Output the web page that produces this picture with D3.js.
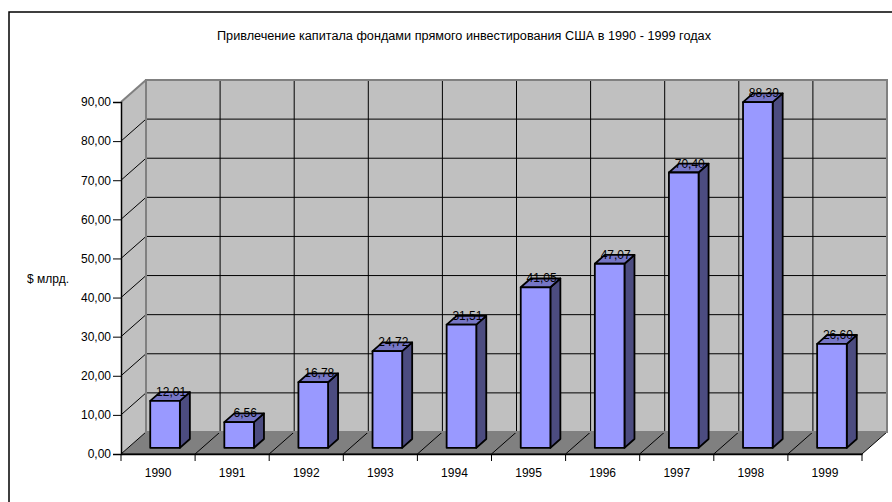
<!DOCTYPE html>
<html>
<head>
<meta charset="utf-8">
<script src="https://cdn.jsdelivr.net/npm/d3@7"></script>
<style>
  body { margin: 0; background: #fff; }
  svg { display: block; font-family: "Liberation Sans", Arial, sans-serif; }
</style>
</head>
<body>
<svg id="chart" width="892" height="502"></svg>
<script>
const years = ["1990", "1991", "1992", "1993", "1994", "1995", "1996", "1997", "1998", "1999"];
const values = [12.01, 6.56, 16.78, 24.72, 31.51, 41.05, 47.07, 70.40, 88.39, 26.60];
const yTicks = [0, 10, 20, 30, 40, 50, 60, 70, 80, 90];
const title = "Привлечение капитала фондами прямого инвестирования США в 1990 - 1999 годах";
const yTitle = "$ млрд.";

const svg = d3.select("#chart");

// 3d depth of the plot box
const depthX = 25, depthY = -22;
const barFront = 0.28, barBack = 0.68;

const x = d3.scaleBand().domain(years).range([121, 862]);
const y = d3.scaleLinear().domain([0, 90]).range([454, 102]);
const fmt = v => d3.format(".2f")(v).replace(".", ",");

// outer frame (cropped at right / bottom)
svg.append("rect")
  .attr("x", 9).attr("y", 12)
  .attr("width", 900).attr("height", 520)
  .attr("fill", "none").attr("stroke", "#000").attr("stroke-width", 1.5);

svg.append("text")
  .attr("x", 464).attr("y", 40)
  .attr("text-anchor", "middle")
  .attr("font-size", 12)
  .attr("textLength", 494).attr("lengthAdjust", "spacingAndGlyphs")
  .text(title);

const x0 = x.range()[0], x1 = x.range()[1];
const yTop = y(90), yBot = y(0);

// back wall
svg.append("rect")
  .attr("x", x0 + depthX).attr("y", yTop + depthY)
  .attr("width", x1 - x0).attr("height", yBot - yTop)
  .attr("fill", "#c0c0c0");

// left wall
svg.append("path")
  .attr("d", d3.line()([[x0, yTop], [x0 + depthX, yTop + depthY], [x0 + depthX, yBot + depthY], [x0, yBot]]))
  .attr("fill", "#c0c0c0");

// floor
svg.append("path")
  .attr("d", d3.line()([[x0, yBot], [x0 + depthX, yBot + depthY], [x1 + depthX, yBot + depthY], [x1, yBot]]) + "Z")
  .attr("fill", "#808080").attr("stroke", "#000").attr("stroke-width", 1);

const grid = svg.append("g").attr("stroke", "#000").attr("stroke-width", 1).attr("fill", "none");

// horizontal gridlines on back and left walls
yTicks.slice(1, -1).forEach(v => {
  grid.append("line")
    .attr("x1", x0 + depthX).attr("x2", x1 + depthX)
    .attr("y1", y(v) + depthY).attr("y2", y(v) + depthY);
  grid.append("line")
    .attr("x1", x0).attr("x2", x0 + depthX)
    .attr("y1", y(v)).attr("y2", y(v) + depthY);
});

// vertical gridlines on back wall and floor lines
years.slice(1).forEach(c => {
  const bx = x(c);
  grid.append("line")
    .attr("x1", bx + depthX).attr("x2", bx + depthX)
    .attr("y1", yTop + depthY).attr("y2", yBot + depthY);
  grid.append("line")
    .attr("x1", bx).attr("x2", bx + depthX)
    .attr("y1", yBot).attr("y2", yBot + depthY);
});

// wall borders
svg.append("rect")
  .attr("x", x0 + depthX).attr("y", yTop + depthY)
  .attr("width", x1 - x0).attr("height", yBot - yTop)
  .attr("fill", "none").attr("stroke", "#808080").attr("stroke-width", 2);
svg.append("line")
  .attr("x1", x0).attr("y1", yTop).attr("x2", x0 + depthX).attr("y2", yTop + depthY)
  .attr("stroke", "#808080").attr("stroke-width", 2);

// bars
const bw = x.bandwidth() * 0.4;
const bars = svg.append("g").attr("stroke", "#000").attr("stroke-width", 1.8).attr("stroke-linejoin", "round");

years.forEach((c, i) => {
  const fx = x(c) + (x.bandwidth() - bw) / 2 + barFront * depthX;
  const fyTop = y(values[i]) + barFront * depthY;
  const fyBot = y(0) + barFront * depthY;
  const ddx = (barBack - barFront) * depthX, ddy = (barBack - barFront) * depthY;

  bars.append("path")
    .attr("d", d3.line()([[fx + bw, fyBot], [fx + bw + ddx, fyBot + ddy], [fx + bw + ddx, fyTop + ddy], [fx + bw, fyTop]]) + "Z")
    .attr("fill", "#4c4c80");
  bars.append("path")
    .attr("d", d3.line()([[fx, fyTop], [fx + ddx, fyTop + ddy], [fx + bw + ddx, fyTop + ddy], [fx + bw, fyTop]]) + "Z")
    .attr("fill", "#7676c6");
  bars.append("rect")
    .attr("x", fx).attr("y", fyTop)
    .attr("width", bw).attr("height", fyBot - fyTop)
    .attr("fill", "#9999ff");

  svg.append("text")
    .attr("x", fx + bw / 2 + 6)
    .attr("y", fyTop + ddy + 4)
    .attr("text-anchor", "middle")
    .attr("font-size", 12)
    .attr("fill", "#000")
    .text(fmt(values[i]));
});

// y axis
const yAxis = svg.append("g")
  .attr("transform", `translate(${x0},0)`)
  .call(d3.axisLeft(y).tickValues(yTicks).tickSize(8).tickPadding(2).tickFormat(fmt));
yAxis.select(".domain").attr("stroke", "#000").attr("stroke-width", 1.5);
yAxis.selectAll(".tick line").attr("stroke", "#000");
yAxis.selectAll("text").attr("font-size", 12).attr("font-family", null).attr("fill", "#000");

// x axis
const xAxis = svg.append("g")
  .attr("transform", `translate(0,${yBot})`)
  .call(d3.axisBottom(x).tickSize(0).tickPadding(14));
xAxis.select(".domain").attr("stroke", "#000").attr("stroke-width", 1.5);
xAxis.selectAll("text").attr("font-size", 12).attr("font-family", null).attr("fill", "#000");
years.concat([null]).forEach((c, i) => {
  const bx = c === null ? x1 : x(c);
  xAxis.append("line")
    .attr("x1", bx).attr("x2", bx).attr("y1", 0).attr("y2", 7)
    .attr("stroke", "#000");
});

svg.append("text")
  .attr("x", 27).attr("y", 283)
  .attr("font-size", 12)
  .text(yTitle);
</script>
</body>
</html>
